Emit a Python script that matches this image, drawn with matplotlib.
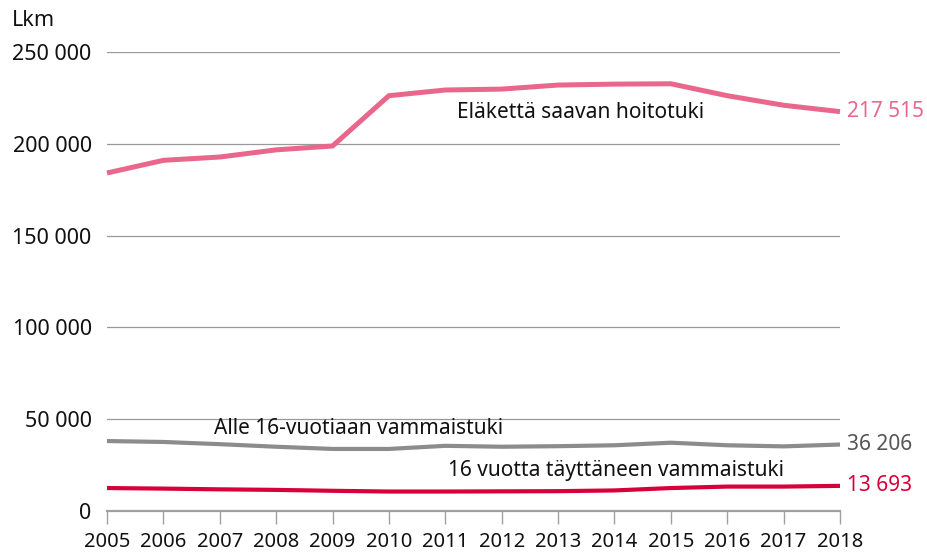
import matplotlib.pyplot as plt
from matplotlib.ticker import FuncFormatter

plt.rcParams["font.family"] = ["Noto Sans", "DejaVu Sans"]

years = list(range(2005, 2019))

# Eläkettä saavan hoitotuki
hoitotuki = [184100, 191000, 192800, 196700, 198800, 226200, 229300, 229800,
             232000, 232500, 232700, 226200, 221000, 217515]
# Alle 16-vuotiaan vammaistuki
alle16 = [38100, 37600, 36400, 35000, 33800, 33800, 35500, 35000,
          35300, 35800, 37200, 35800, 35200, 36206]
# 16 vuotta täyttäneen vammaistuki
yli16 = [12500, 12200, 11800, 11500, 11000, 10600, 10600, 10700,
         10800, 11200, 12500, 13300, 13300, 13693]

series = [
    (hoitotuki, "#E8678A", "#E8678A", 3.6, "Eläkettä saavan hoitotuki", (2011.2, 216800)),
    (alle16, "#8C8C8C", "#555555", 3.0, "Alle 16-vuotiaan vammaistuki", (2006.9, 45200)),
    (yli16, "#D7003A", "#D7003A", 3.0, "16 vuotta täyttäneen vammaistuki", (2011.05, 22300)),
]

fig = plt.figure(figsize=(9.28, 5.54), dpi=100)
ax = fig.add_axes([107 / 928, 1 - 511 / 554, 733 / 928, 459 / 554])

for y in [50000, 100000, 150000, 200000, 250000]:
    ax.axhline(y, color="#999999", lw=0.9, zorder=1)

for values, color, tcolor, lw, label, pos in series:
    ax.plot(years, values, color=color, lw=lw, solid_capstyle="butt",
            solid_joinstyle="miter", zorder=3, clip_on=False)
    ax.text(pos[0], pos[1], label, fontsize=15, color="#111111",
            ha="left", va="center")
    val = values[-1]
    ax.annotate(f"{val:,}".replace(",", " "), xy=(years[-1], val),
                xytext=(5, 0), textcoords="offset points", fontsize=15,
                color=tcolor, ha="left", va="center")

ax.set_xlim(2005, 2018)
ax.set_ylim(0, 250000)
ax.set_xticks(years)
ax.set_yticks([0, 50000, 100000, 150000, 200000, 250000])
ax.yaxis.set_major_formatter(FuncFormatter(lambda v, p: f"{int(v):,}".replace(",", " ")))

for side in ["top", "right", "left"]:
    ax.spines[side].set_visible(False)
ax.spines["bottom"].set_color("#A0A0A0")
ax.spines["bottom"].set_linewidth(1.6)

ax.tick_params(axis="x", direction="out", length=9, width=1.0, color="#A0A0A0",
               labelsize=14.5, pad=6, labelcolor="#111111")
ax.tick_params(axis="y", length=0, labelsize=15.5, pad=11, labelcolor="#111111")

fig.text(12 / 928, 1 - 20 / 554, "Lkm", fontsize=15.5, color="#111111",
         ha="left", va="center")

fig.savefig("out.png", dpi=100)
